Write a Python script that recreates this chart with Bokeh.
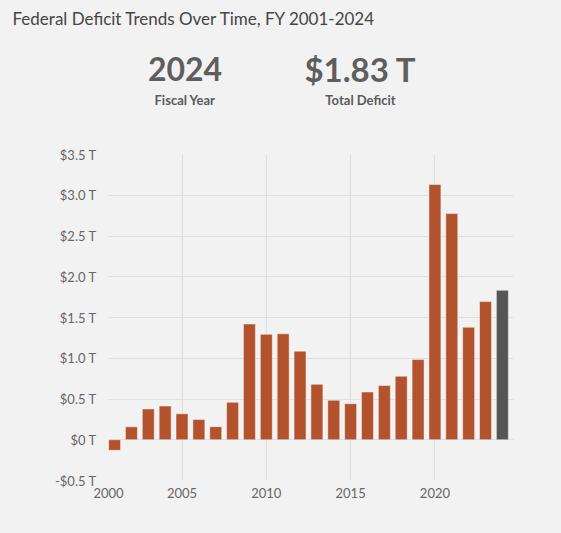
from bokeh.plotting import figure
from bokeh.layouts import column
from bokeh.models import ColumnDataSource, FixedTicker, CustomJSTickFormatter, Range1d
from bokeh.core.properties import value
from bokeh.embed import file_html
from bokeh.resources import INLINE

# ---- data ----
years = [2001, 2002, 2003, 2004, 2005, 2006, 2007, 2008, 2009, 2010, 2011, 2012,
         2013, 2014, 2015, 2016, 2017, 2018, 2019, 2020, 2021, 2022, 2023, 2024]
deficit_t = [-0.13, 0.158, 0.378, 0.413, 0.318, 0.248, 0.161, 0.459, 1.42, 1.294,
             1.30, 1.087, 0.68, 0.485, 0.442, 0.585, 0.665, 0.779, 0.984, 3.132,
             2.775, 1.38, 1.695, 1.833]
highlight_year = 2024
x_tick_years = [2005, 2010, 2015, 2020]
y_ticks = [-0.5, 0, 0.5, 1.0, 1.5, 2.0, 2.5, 3.0, 3.5]
title_text = "Federal Deficit Trends Over Time, FY 2001-2024"
kpi_year_label = "Fiscal Year"
kpi_total_label = "Total Deficit"

BAR = "#b3532e"
HL = "#555555"
BG = "#f2f2f2"
FONT = "Lato"
W = 561
TITLE_H = 40
HEAD_H = 146
BL, BR = 108, 48

colors = [HL if y == highlight_year else BAR for y in years]
hl_value = deficit_t[years.index(highlight_year)]

def blank(fig):
    fig.axis.visible = False
    fig.grid.visible = False
    fig.background_fill_color = BG
    fig.border_fill_color = BG
    fig.outline_line_color = None

# ---- title strip ----
tfig = figure(width=W, height=TITLE_H, output_backend="svg", toolbar_location=None,
              x_range=Range1d(0, 1), y_range=Range1d(0, 1),
              min_border_left=BL, min_border_right=BR, min_border_top=28,
              min_border_bottom=0, title=title_text)
blank(tfig)
tfig.title.align = "left"
tfig.title.offset = 12 - BL
tfig.title.standoff = 0
tfig.title.text_font = FONT
tfig.title.text_font_size = "17px"
tfig.title.text_font_style = "normal"
tfig.title.text_color = "#454545"

# ---- KPI strip (data coords = page pixels) ----
head = figure(width=W, height=HEAD_H - TITLE_H, output_backend="svg", toolbar_location=None,
              x_range=Range1d(BL, W - BR), y_range=Range1d(HEAD_H, TITLE_H),
              min_border_left=BL, min_border_right=BR, min_border_top=0, min_border_bottom=0)
blank(head)

def txt(x, y, text, size, color, weight="normal", align="center"):
    head.text(x=[x], y=[y], text=[text], text_font=value(FONT), text_font_size=size,
              text_color=color, text_font_style=weight, text_align=align,
              text_baseline="middle")

txt(184.5, 68.5, str(highlight_year), "32px", "#5e5e5e", "bold")
txt(360, 68.5, "$%.2f T" % hl_value, "33px", "#5e5e5e", "bold")
txt(184.5, 99.5, kpi_year_label, "13px", "#5a5a5a", "bold")
txt(360, 99.5, kpi_total_label, "13px", "#5a5a5a", "bold")

# ---- chart ----
src = ColumnDataSource(dict(x=years, top=deficit_t, color=colors))

x_start = years[0] - 0.36
x_end = years[-1] + 0.66

p = figure(width=W, height=533 - HEAD_H, output_backend="svg", toolbar_location=None,
           x_range=Range1d(x_start, x_end), y_range=Range1d(y_ticks[0], y_ticks[-1]),
           min_border_left=BL, min_border_right=BR, min_border_top=8, min_border_bottom=53)
p.background_fill_color = BG
p.border_fill_color = BG
p.outline_line_color = None

p.vbar(x="x", top="top", bottom=0, width=0.71, fill_color="color", source=src,
       line_color="white", line_alpha=0.45, line_width=1)

p.xaxis.ticker = FixedTicker(ticks=[x_start] + x_tick_years)
p.xaxis.formatter = CustomJSTickFormatter(code="return tick < %d ? '2000' : tick.toFixed(0);" % years[0])
p.yaxis.ticker = FixedTicker(ticks=y_ticks)
p.yaxis.formatter = CustomJSTickFormatter(code="""
if (Math.abs(tick) < 1e-9) return '$0 T';
const s = tick < 0 ? '-' : '';
return s + '$' + Math.abs(tick).toFixed(1) + ' T';
""")
for ax in (p.xaxis[0], p.yaxis[0]):
    ax.axis_line_color = None
    ax.major_tick_line_color = None
    ax.minor_tick_line_color = None
    ax.major_tick_out = 0
    ax.major_tick_in = 0
    ax.major_label_text_font = FONT
    ax.major_label_text_font_size = "13px"
    ax.major_label_text_color = "#666666"
p.yaxis.major_label_standoff = 12
p.xaxis.major_label_standoff = 7

p.xgrid.ticker = FixedTicker(ticks=[x_start] + x_tick_years)
p.ygrid.ticker = FixedTicker(ticks=y_ticks)
p.xgrid.grid_line_color = "#dfdfdf"
p.ygrid.grid_line_color = "#dfdfdf"
p.xgrid.grid_line_width = 1.2
p.ygrid.grid_line_width = 1.2

layout = column(tfig, head, p, spacing=0)

html = file_html(layout, INLINE)
html = html.replace("</head>", "<style>html,body{background:%s;}</style></head>" % BG, 1)
open("out.html", "w").write(html)
